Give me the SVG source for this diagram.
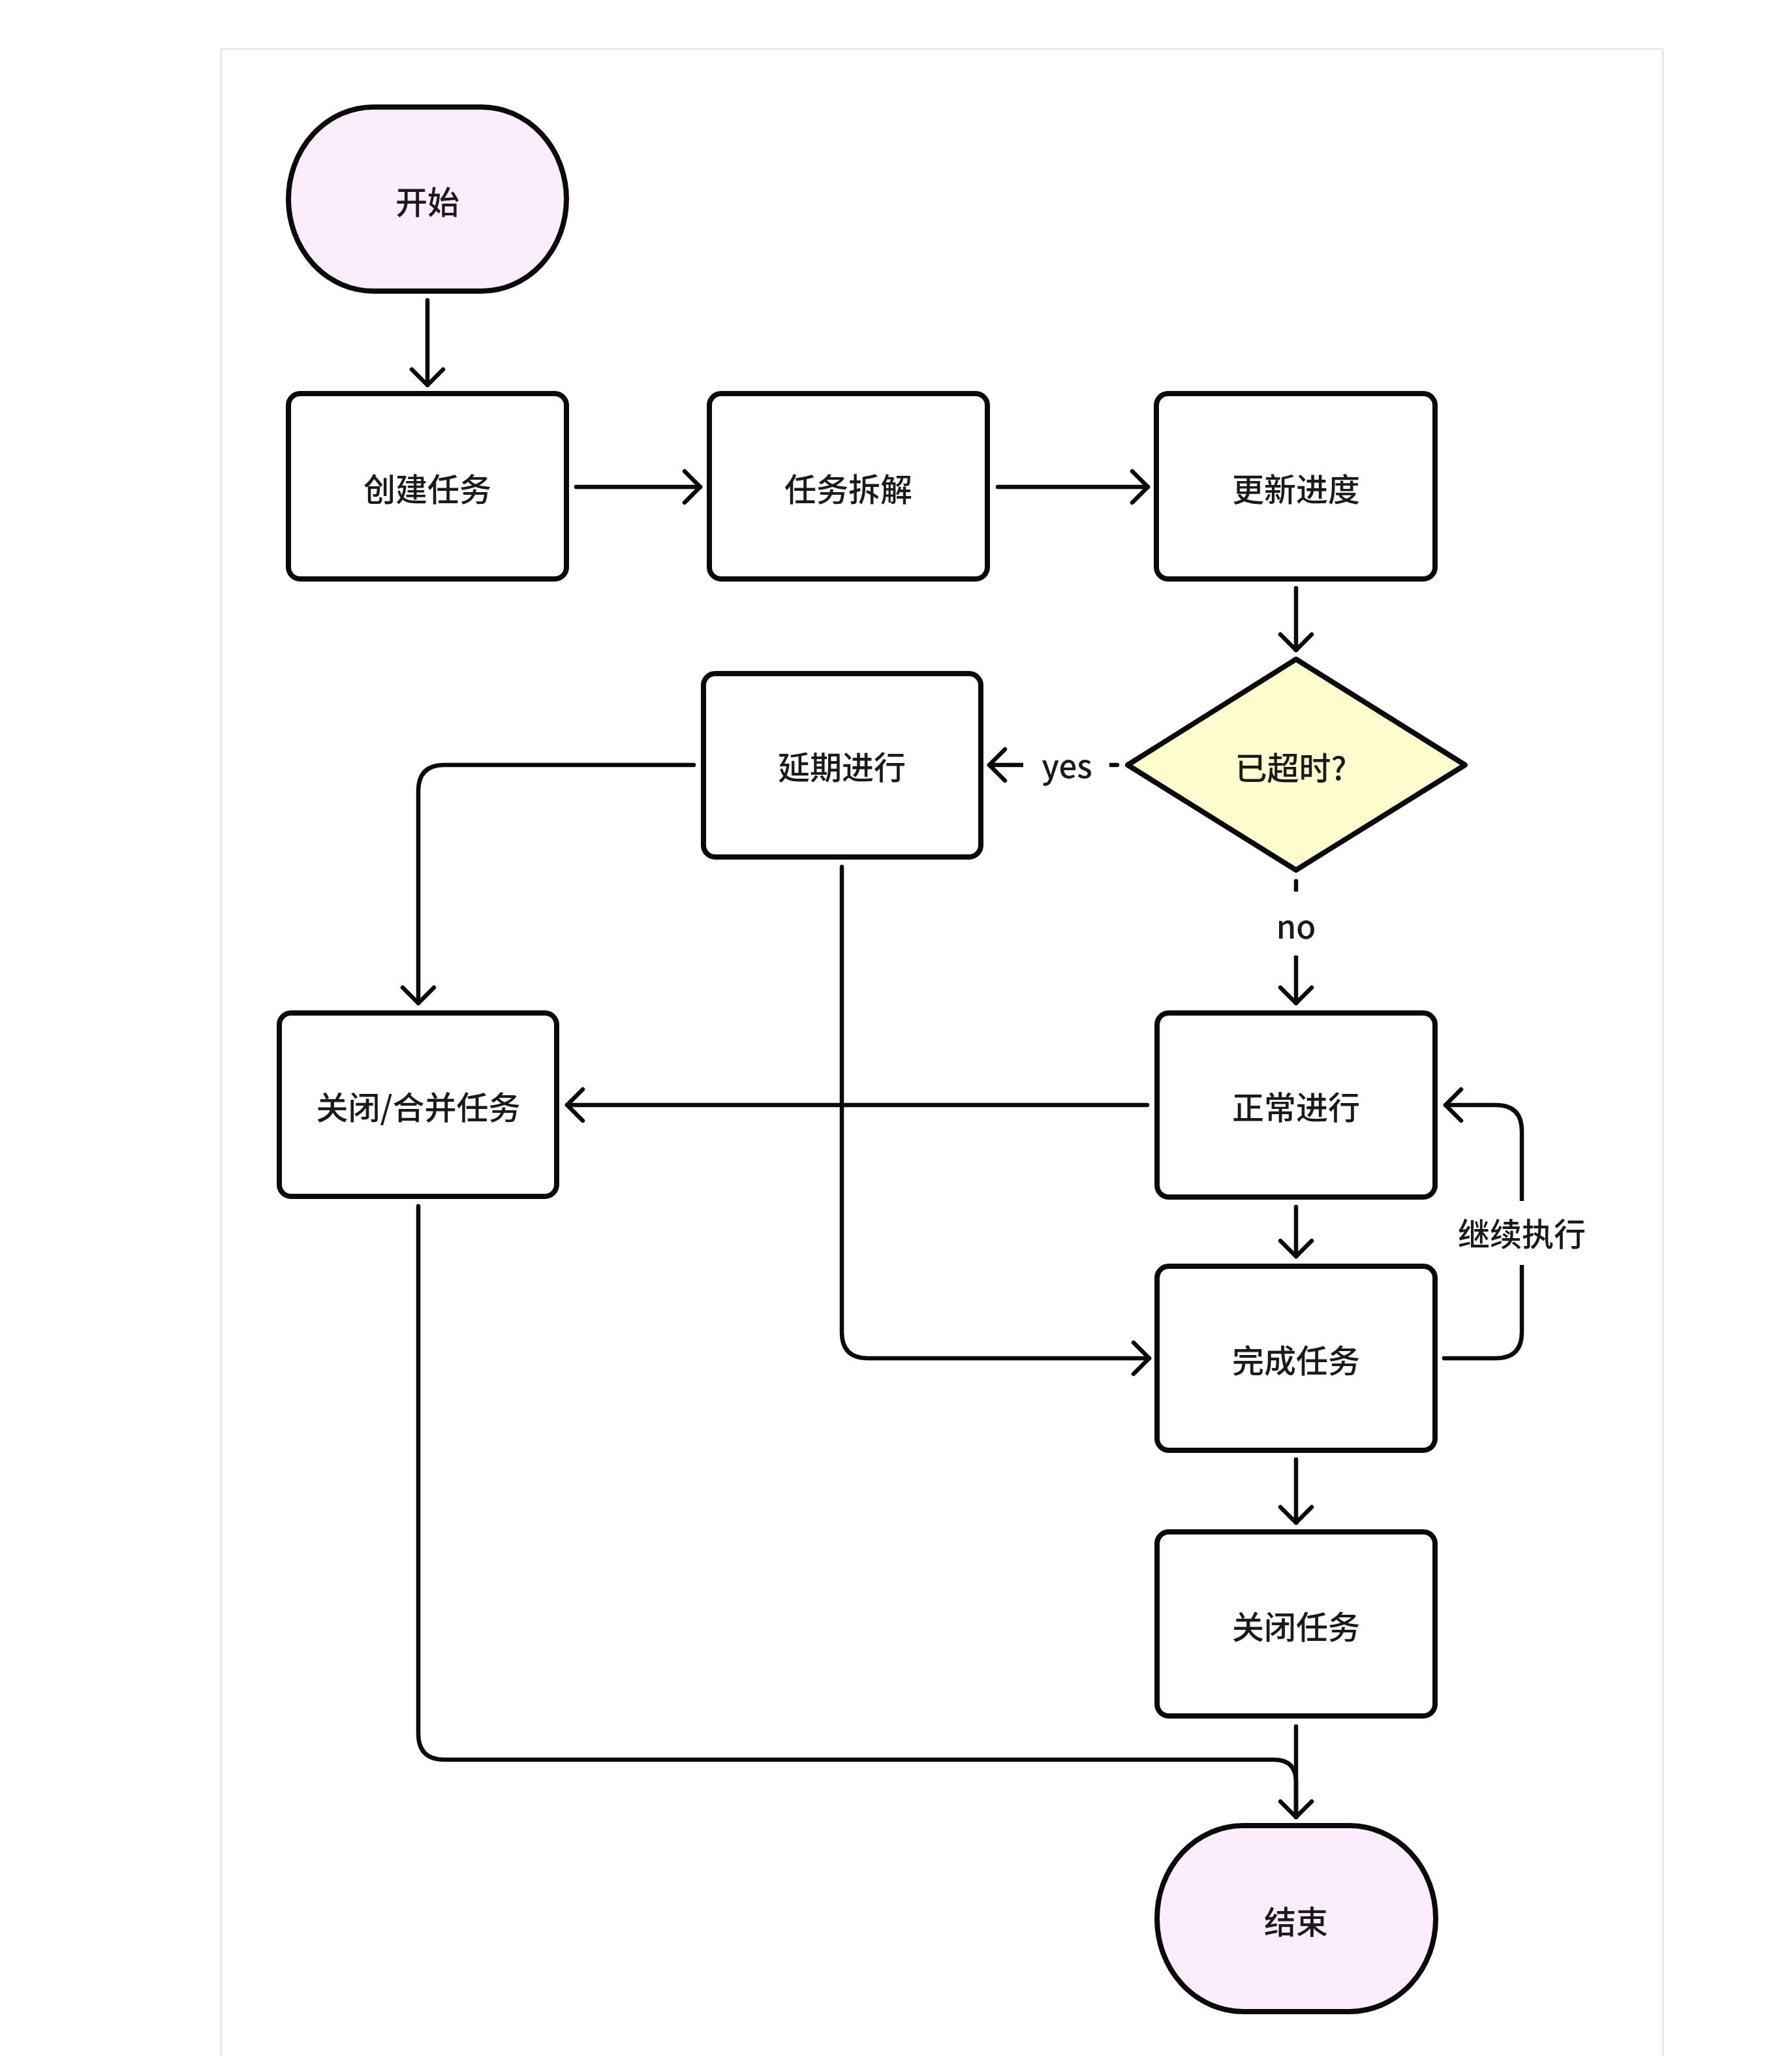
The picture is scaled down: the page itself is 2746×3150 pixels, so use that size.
<svg xmlns="http://www.w3.org/2000/svg" width="2746" height="3150" viewBox="0 0 2746 3150">
<style>
.node{fill:#ffffff;stroke:#0a0a0a;stroke-width:8}
.term{fill:#fcedfd;stroke:#0a0a0a;stroke-width:8}
.dec{fill:#fefccd;stroke:#0a0a0a;stroke-width:8;stroke-linejoin:round}
.lbl{font-family:"Noto Sans CJK SC","Noto Sans",sans-serif;font-size:49px;font-weight:500;fill:#1a1a1a;text-anchor:middle;dominant-baseline:central}
.edge{fill:none;stroke:#0a0a0a;stroke-width:6.5;stroke-linecap:round;stroke-linejoin:round}
.bg{fill:#ffffff}
</style>
<defs>
<marker id="arr" markerUnits="userSpaceOnUse" viewBox="-30 -30 60 60" refX="0" refY="0" markerWidth="60" markerHeight="60" orient="auto">
<path d="M -24 -24 L 0 0 L -24 24" fill="none" stroke="#0a0a0a" stroke-width="6.5" stroke-linecap="round" stroke-linejoin="round"/>
</marker>
</defs>
<rect width="2746" height="3150" fill="#ffffff"/>
<path d="M 339 3150 V 75 H 2548 V 3150" fill="none" stroke="#e2e2e2" stroke-width="2.5"/>

<g id="connectors">
<path class="edge" d="M 655 460 V 590" marker-end="url(#arr)"/>
<path class="edge" d="M 883 746 H 1073" marker-end="url(#arr)"/>
<path class="edge" d="M 1529 746 H 1759" marker-end="url(#arr)"/>
<path class="edge" d="M 1986 901 V 996" marker-end="url(#arr)"/>
<path class="edge" d="M 1712 1172 H 1516" marker-end="url(#arr)"/>
<rect class="bg" x="1568" y="1140" width="132" height="64"/>
<text class="lbl" x="1635" y="1170">yes</text>
<path class="edge" d="M 1986 1350 V 1537" marker-end="url(#arr)"/>
<rect class="bg" x="1950" y="1366" width="72" height="98"/>
<text class="lbl" x="1986" y="1416">no</text>
<path class="edge" d="M 1063 1172 H 681 Q 641 1172 641 1212 V 1537" marker-end="url(#arr)"/>
<path class="edge" d="M 1290 1328 V 2041 Q 1290 2081 1330 2081 H 1761" marker-end="url(#arr)"/>
<path class="edge" d="M 1758 1693 H 869" marker-end="url(#arr)"/>
<path class="edge" d="M 1986 1849 V 1925" marker-end="url(#arr)"/>
<path class="edge" d="M 2213 2081 H 2292 Q 2332 2081 2332 2041 V 1733 Q 2332 1693 2292 1693 H 2215" marker-end="url(#arr)"/>
<rect class="bg" x="2224" y="1840" width="216" height="98"/>
<text class="lbl" x="2332" y="1887">继续执行</text>
<path class="edge" d="M 1986 2236 V 2333" marker-end="url(#arr)"/>
<path class="edge" d="M 641 1848 V 2656 Q 641 2696 681 2696 H 1952 Q 1986 2696 1986 2730 V 2784"/>
<path class="edge" d="M 1986 2645 V 2784" marker-end="url(#arr)"/>
</g>

<g id="n-start">
<rect class="term" x="442" y="164" width="426" height="282" rx="130" ry="141"/>
<text class="lbl" x="655" y="306">开始</text>
</g>
<g id="n-create">
<rect class="node" x="442" y="603" width="426" height="284" rx="18"/>
<text class="lbl" x="655" y="746">创建任务</text>
</g>
<g id="n-split">
<rect class="node" x="1087" y="603" width="426" height="284" rx="18"/>
<text class="lbl" x="1300" y="746">任务拆解</text>
</g>
<g id="n-update">
<rect class="node" x="1772" y="603" width="427" height="284" rx="18"/>
<text class="lbl" x="1986" y="746">更新进度</text>
</g>
<g id="n-timeout">
<polygon class="dec" points="1986,1010 2245,1172 1986,1333 1728,1172"/>
<text class="lbl" x="1978" y="1173">已超时?</text>
</g>
<g id="n-delay">
<rect class="node" x="1078" y="1032" width="425" height="281" rx="18"/>
<text class="lbl" x="1290" y="1172">延期进行</text>
</g>
<g id="n-closemerge">
<rect class="node" x="428" y="1552" width="425" height="281" rx="18"/>
<text class="lbl" x="641" y="1693">关闭/合并任务</text>
</g>
<g id="n-normal">
<rect class="node" x="1773" y="1552" width="426" height="282" rx="18"/>
<text class="lbl" x="1986" y="1693">正常进行</text>
</g>
<g id="n-done">
<rect class="node" x="1773" y="1940" width="426" height="282" rx="18"/>
<text class="lbl" x="1986" y="2081">完成任务</text>
</g>
<g id="n-close">
<rect class="node" x="1773" y="2347" width="426" height="282" rx="18"/>
<text class="lbl" x="1986" y="2489">关闭任务</text>
</g>
<g id="n-end">
<rect class="term" x="1773" y="2797" width="427" height="285" rx="132" ry="142"/>
<text class="lbl" x="1986" y="2941">结束</text>
</g>
</svg>
